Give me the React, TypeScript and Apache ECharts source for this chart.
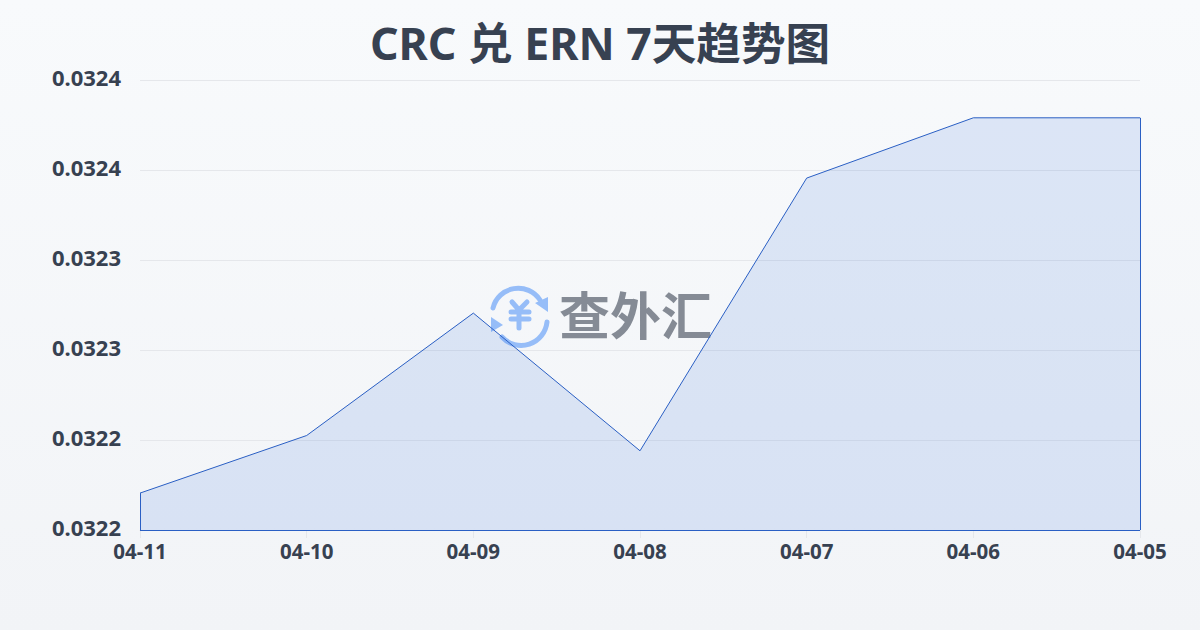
import React, { useEffect, useRef } from "react";
import * as echarts from "echarts";

const categories = ["04-11", "04-10", "04-09", "04-08", "04-07", "04-06", "04-05"];
const rates = [0.0322205, 0.0322525, 0.0323205, 0.032244, 0.0323955, 0.032429, 0.032429];
const yTickLabels = ["0.0322", "0.0322", "0.0323", "0.0323", "0.0324", "0.0324"];
const yMin = 0.0322;
const yMax = 0.03245;
const yStep = 0.00005;
const titleText = "CRC 兑 ERN 7天趋势图";
const watermarkText = "查外汇";

const LOGO_RING = "M 3 23 A 26 26 0 0 1 50 15 M 57 37 A 26 26 0 0 1 12 52";
const LOGO_YEN = "M 22 17 L 29 25 L 37 17 M 21 27 L 39 27 M 21 34 L 39 34 M 29 25 L 29 43";
const LOGO_ARROWS = "M 58 12 L 58 27 L 45 18 Z M 1 32 L 13 40 L 1 47 Z";

echarts.graphic.registerShape("logoRing", echarts.graphic.extendPath(LOGO_RING as any, {} as any) as any);
echarts.graphic.registerShape("logoYen", echarts.graphic.extendPath(LOGO_YEN as any, {} as any) as any);
echarts.graphic.registerShape("logoArrows", echarts.graphic.extendPath(LOGO_ARROWS as any, {} as any) as any);

export default function App() {
  const ref = useRef<HTMLDivElement>(null);
  useEffect(() => {
    if (!ref.current) return;
    const chart = echarts.init(ref.current, undefined, { renderer: "svg" });
    const first = categories[0];
    const last = categories[categories.length - 1];
    const edge = { lineStyle: { color: "#2a5fc4", width: 1, type: "solid" as const } };
    chart.setOption({
      animation: false,
      backgroundColor: {
        type: "linear", x: 0, y: 0, x2: 0, y2: 1,
        colorStops: [
          { offset: 0, color: "#f8fafc" },
          { offset: 1, color: "#f2f4f7" },
        ],
      },
      title: {
        text: titleText,
        left: "center",
        top: 15,
        textStyle: {
          fontFamily: "'Noto Sans', 'Noto Sans CJK SC', sans-serif",
          fontSize: 44.6,
          fontWeight: "bold",
          color: "#374151",
        },
      },
      grid: { left: 140, right: 60, top: 80, bottom: 100 },
      xAxis: {
        type: "category",
        data: categories,
        boundaryGap: false,
        axisLine: { show: true, lineStyle: { color: "#e5e7eb" } },
        axisTick: { show: true, length: 8, lineStyle: { color: "#e5e7eb" } },
        axisLabel: {
          color: "#374151",
          fontSize: 20.5,
          fontWeight: "bold",
          margin: 10,
          fontFamily: "'Noto Sans', sans-serif",
          hideOverlap: false,
          interval: 0,
        },
        splitLine: { show: false },
      },
      yAxis: {
        type: "value",
        min: yMin,
        max: yMax,
        interval: yStep,
        axisLine: { show: false },
        axisTick: { show: false },
        axisLabel: {
          color: "#374151",
          fontSize: 22,
          fontWeight: "bold",
          margin: 19,
          lineHeight: 6,
          verticalAlign: "bottom",
          fontFamily: "'Noto Sans', sans-serif",
          formatter: (_v: number, i: number) => yTickLabels[i] ?? "",
        },
        splitLine: { show: true, lineStyle: { color: "#e5e7eb", width: 1 } },
      },
      series: [
        {
          type: "line",
          data: rates,
          symbol: "none",
          smooth: false,
          z: 3,
          lineStyle: { color: "#2a5fc4", width: 1 },
          areaStyle: { color: "rgba(59,110,222,0.2)", origin: "start" },
          markLine: {
            silent: true,
            symbol: "none",
            label: { show: false },
            ...edge,
            data: [
              [{ coord: [first, yMin] }, { coord: [first, rates[0]] }],
              [{ coord: [first, yMin] }, { coord: [last, yMin] }],
              [{ coord: [last, yMin] }, { coord: [last, rates[rates.length - 1]] }],
            ],
          },
        },
      ],
      graphic: [
        {
          type: "group",
          x: 490,
          y: 285,
          z: 1,
          children: [
            { type: "logoRing", z: 1, style: { fill: "none", stroke: "#96bdf8", lineWidth: 5, lineCap: "round" } },
            { type: "logoYen", z: 1, style: { fill: "none", stroke: "#96bdf8", lineWidth: 5, lineCap: "round" } },
            { type: "logoArrows", z: 1, style: { fill: "#96bdf8" } },
          ],
        },
        {
          type: "text",
          x: 559,
          y: 287,
          z: 1,
          style: {
            text: watermarkText,
            fontFamily: "'Noto Sans CJK SC', sans-serif",
            fontSize: 51,
            fontWeight: "bold",
            fill: "#858b95",
          },
        },
      ],
    });
    return () => chart.dispose();
  }, []);
  return <div ref={ref} style={{ position: "fixed", left: 0, top: 0, width: 1200, height: 630 }} />;
}
